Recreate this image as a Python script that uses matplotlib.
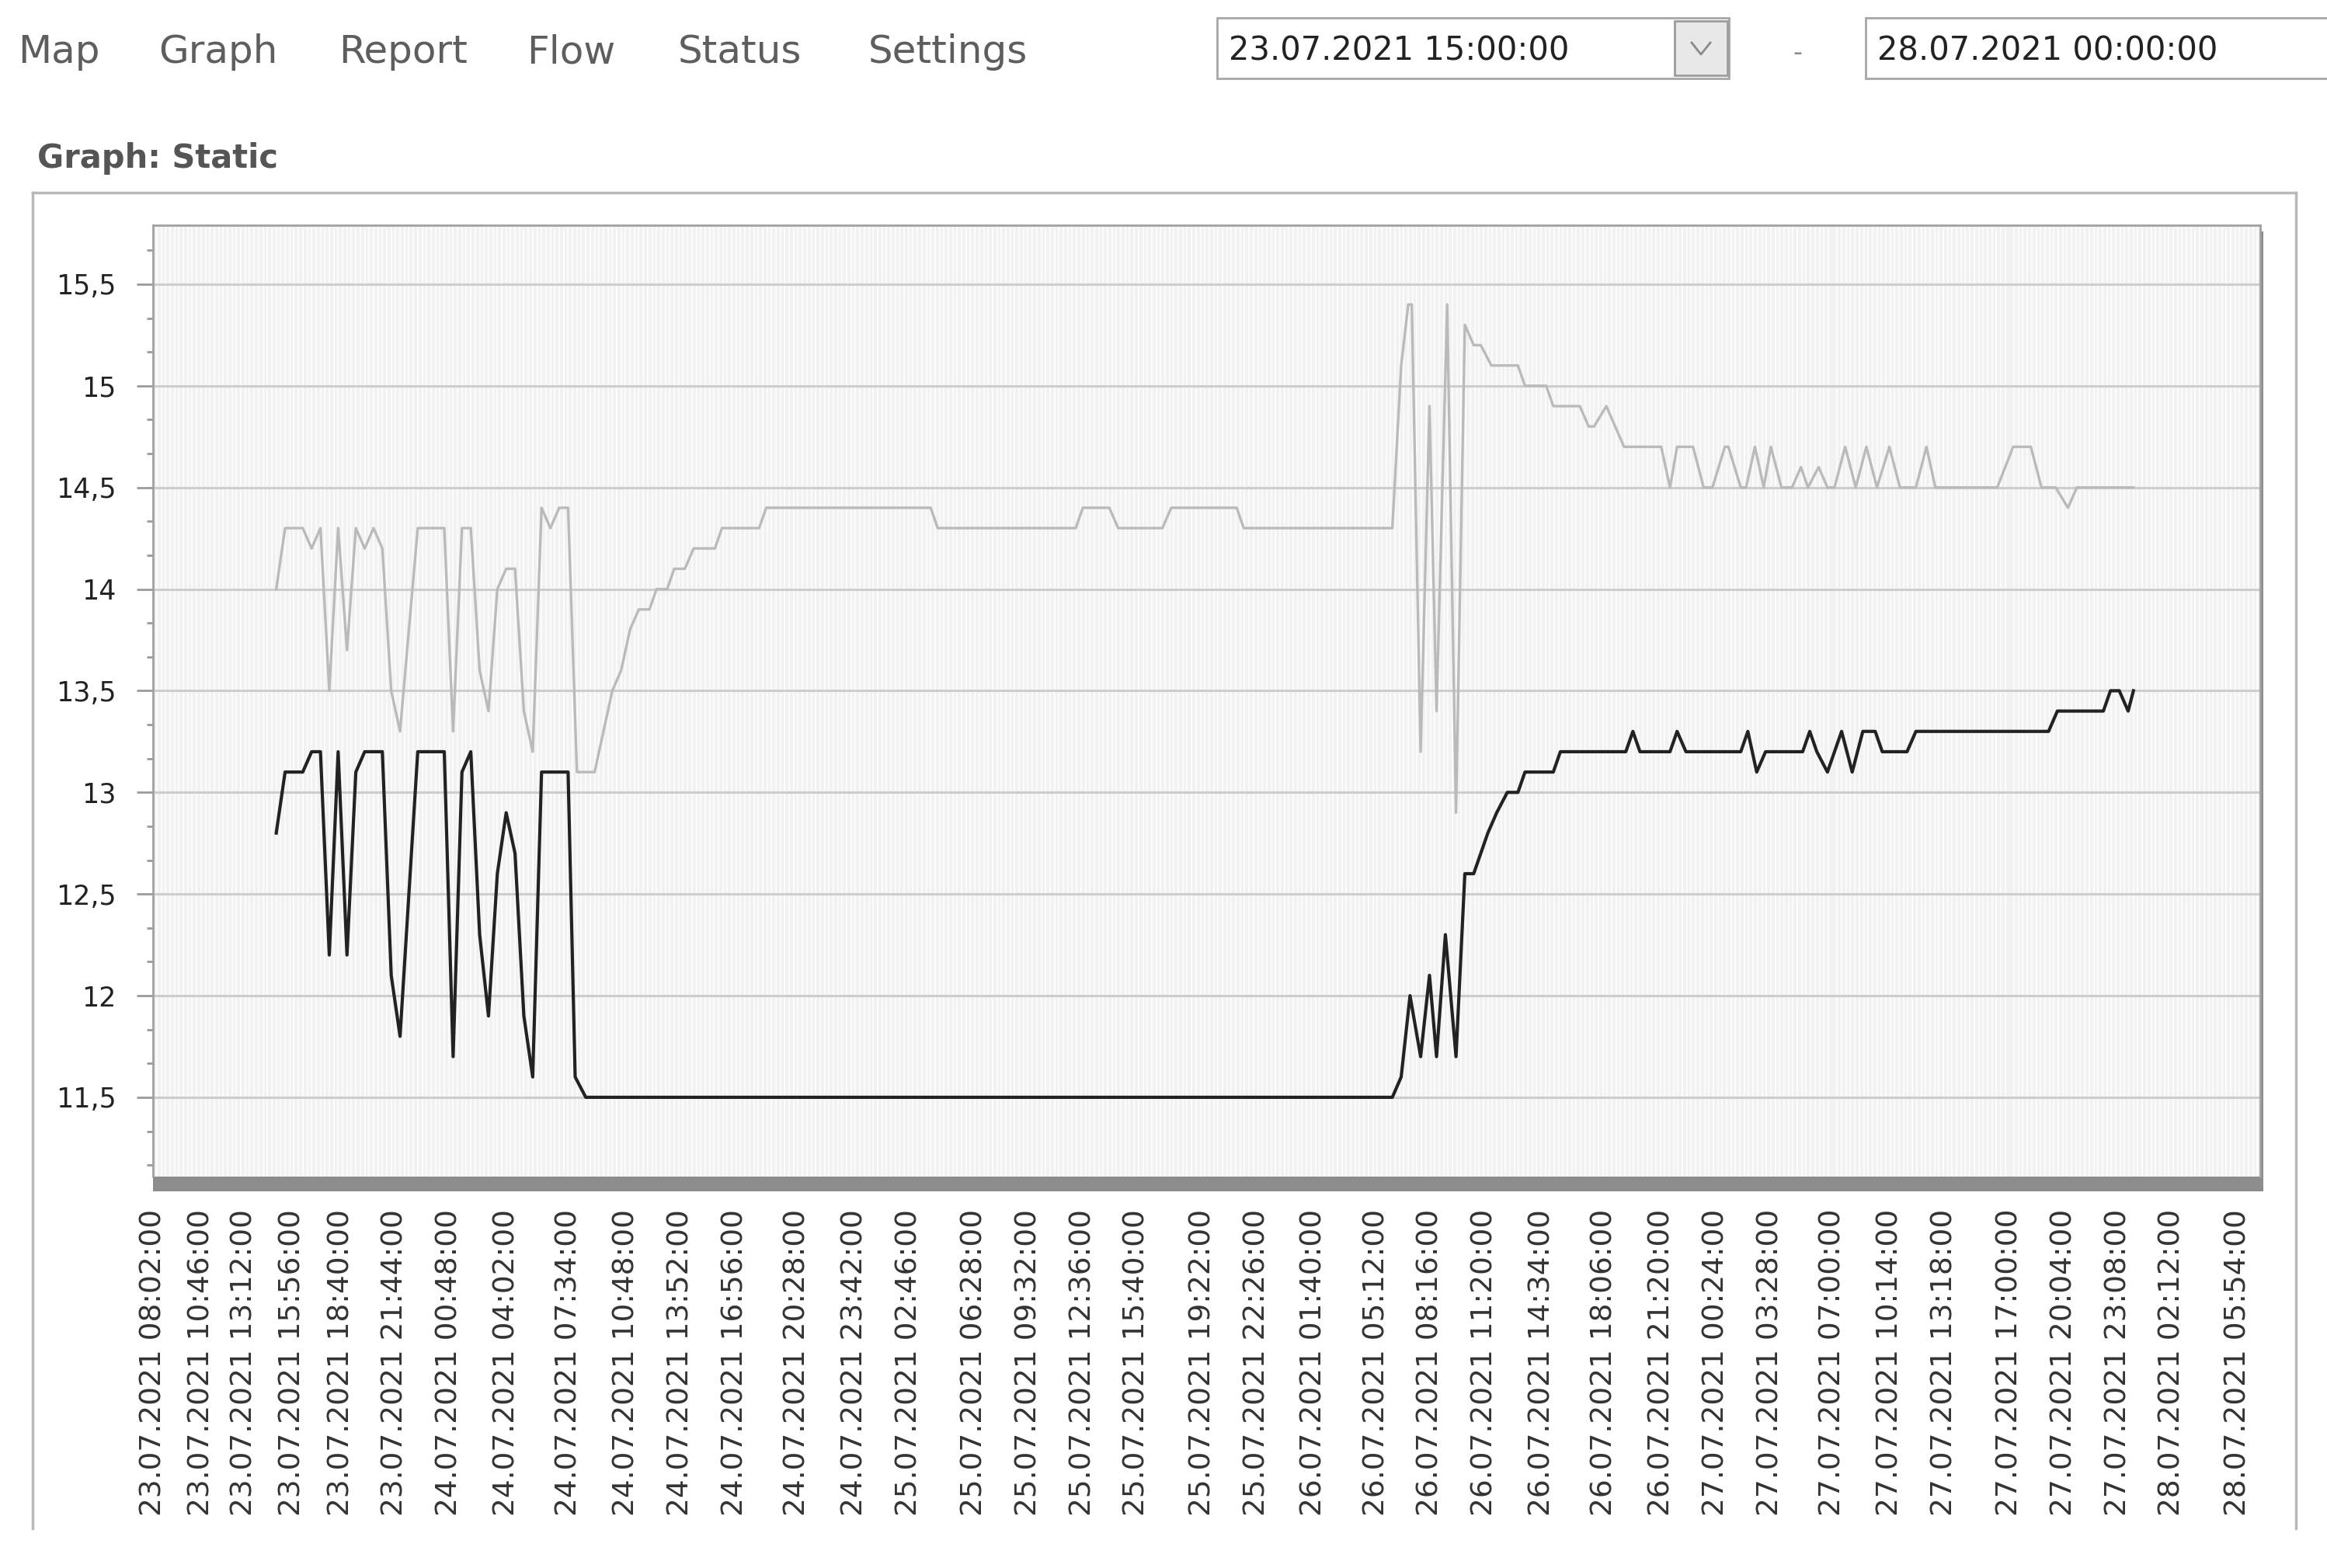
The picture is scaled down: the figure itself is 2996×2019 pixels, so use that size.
import matplotlib
matplotlib.use("Agg")
import matplotlib.pyplot as plt
from matplotlib.patches import Rectangle
from matplotlib.lines import Line2D
from matplotlib.ticker import MultipleLocator, FuncFormatter
import matplotlib.dates as mdates
from datetime import datetime, timedelta

# --- data ---
menu_items = ["Map", "Graph", "Report", "Flow", "Status", "Settings"]
date_from = "23.07.2021 15:00:00"
date_to = "28.07.2021 00:00:00"
panel_title = "Graph: Static"

x_tick_labels = [
    "23.07.2021 08:02:00", "23.07.2021 10:46:00", "23.07.2021 13:12:00", "23.07.2021 15:56:00",
    "23.07.2021 18:40:00", "23.07.2021 21:44:00", "24.07.2021 00:48:00", "24.07.2021 04:02:00",
    "24.07.2021 07:34:00", "24.07.2021 10:48:00", "24.07.2021 13:52:00", "24.07.2021 16:56:00",
    "24.07.2021 20:28:00", "24.07.2021 23:42:00", "25.07.2021 02:46:00", "25.07.2021 06:28:00",
    "25.07.2021 09:32:00", "25.07.2021 12:36:00", "25.07.2021 15:40:00", "25.07.2021 19:22:00",
    "25.07.2021 22:26:00", "26.07.2021 01:40:00", "26.07.2021 05:12:00", "26.07.2021 08:16:00",
    "26.07.2021 11:20:00", "26.07.2021 14:34:00", "26.07.2021 18:06:00", "26.07.2021 21:20:00",
    "27.07.2021 00:24:00", "27.07.2021 03:28:00", "27.07.2021 07:00:00", "27.07.2021 10:14:00",
    "27.07.2021 13:18:00", "27.07.2021 17:00:00", "27.07.2021 20:04:00", "27.07.2021 23:08:00",
    "28.07.2021 02:12:00", "28.07.2021 05:54:00",
]

# hours after the "from" date, and readings
gray_hours = [
    0.0, 0.5, 1.5, 2.0, 2.5, 3.0, 3.5, 4.0, 4.5, 5.0, 5.5, 6.0, 6.5, 7.0, 8.0, 9.5,
    10.0, 10.5, 11.0, 11.5, 12.0, 12.5, 13.0, 13.5, 14.0, 14.5, 15.0, 15.5, 16.0, 16.5,
    17.0, 18.0, 19.0, 19.5, 20.0, 20.5, 21.1, 21.5, 22.1, 22.5, 23.1, 23.6, 24.8, 25.2,
    27.3, 27.7, 37.0, 37.4, 45.2, 45.6, 47.1, 47.6, 50.1, 50.6, 54.3, 54.7, 63.1, 63.6,
    64.0, 64.2, 64.7, 65.2, 65.6, 66.2, 66.7, 67.2, 67.7, 68.1, 68.7, 70.2, 70.6, 71.8,
    72.2, 73.7, 74.2, 74.5, 75.2, 76.2, 78.3, 78.8, 79.2, 80.1, 80.7, 81.2, 81.9, 82.1,
    82.8, 83.1, 83.6, 84.1, 84.5, 85.1, 85.7, 86.2, 86.6, 87.2, 87.7, 88.1, 88.7, 89.3,
    89.9, 90.5, 91.2, 91.8, 92.7, 93.3, 93.8, 97.3, 98.2, 99.2, 99.8, 100.6, 101.3,
    101.8, 105.0,
]
gray_values = [
    14.0, 14.3, 14.3, 14.2, 14.3, 13.5, 14.3, 13.7, 14.3, 14.2, 14.3, 14.2, 13.5, 13.3, 14.3, 14.3,
    13.3, 14.3, 14.3, 13.6, 13.4, 14.0, 14.1, 14.1, 13.4, 13.2, 14.4, 14.3, 14.4, 14.4,
    13.1, 13.1, 13.5, 13.6, 13.8, 13.9, 13.9, 14.0, 14.0, 14.1, 14.1, 14.2, 14.2, 14.3,
    14.3, 14.4, 14.4, 14.3, 14.3, 14.4, 14.4, 14.3, 14.3, 14.4, 14.4, 14.3, 14.3, 15.1,
    15.4, 15.4, 13.2, 14.9, 13.4, 15.4, 12.9, 15.3, 15.2, 15.2, 15.1, 15.1, 15.0, 15.0,
    14.9, 14.9, 14.8, 14.8, 14.9, 14.7, 14.7, 14.5, 14.7, 14.7, 14.5, 14.5, 14.7, 14.7,
    14.5, 14.5, 14.7, 14.5, 14.7, 14.5, 14.5, 14.6, 14.5, 14.6, 14.5, 14.5, 14.7, 14.5,
    14.7, 14.5, 14.7, 14.5, 14.5, 14.7, 14.5, 14.5, 14.7, 14.7, 14.5, 14.5, 14.4,
    14.5, 14.5,
]

black_hours = [
    0.0, 0.5, 1.5, 2.0, 2.5, 3.0, 3.5, 4.0, 4.5, 5.0, 6.0, 6.5, 7.0, 8.0, 9.5, 10.0,
    10.5, 11.0, 11.5, 12.0, 12.5, 13.0, 13.5, 14.0, 14.5, 15.0, 16.5, 16.9, 17.5, 63.1,
    63.6, 64.1, 64.7, 65.2, 65.6, 66.1, 66.7, 67.2, 67.7, 68.5, 69.0, 69.6, 70.2, 70.6,
    72.2, 72.6, 76.3, 76.7, 77.1, 78.8, 79.2, 79.7, 82.8, 83.2, 83.7, 84.2, 86.3, 86.7,
    87.1, 87.7, 88.5, 89.1, 89.7, 90.4, 90.8, 92.2, 92.7, 100.2, 100.7, 103.3, 103.7,
    104.2, 104.7, 105.0,
]
black_values = [
    12.8, 13.1, 13.1, 13.2, 13.2, 12.2, 13.2, 12.2, 13.1, 13.2, 13.2, 12.1, 11.8, 13.2, 13.2, 11.7,
    13.1, 13.2, 12.3, 11.9, 12.6, 12.9, 12.7, 11.9, 11.6, 13.1, 13.1, 11.6, 11.5, 11.5,
    11.6, 12.0, 11.7, 12.1, 11.7, 12.3, 11.7, 12.6, 12.6, 12.8, 12.9, 13.0, 13.0, 13.1,
    13.1, 13.2, 13.2, 13.3, 13.2, 13.2, 13.3, 13.2, 13.2, 13.3, 13.1, 13.2, 13.2, 13.3,
    13.2, 13.1, 13.3, 13.1, 13.3, 13.3, 13.2, 13.2, 13.3, 13.3, 13.4, 13.4, 13.5,
    13.5, 13.4, 13.5,
]

# --- figure in pixel units ---
W, H = 2996, 2019
fmt = "%d.%m.%Y %H:%M:%S"


def fx(x):
    return x / W


def fy(y):
    return 1 - y / H


fig = plt.figure(figsize=(W / 100, H / 100), dpi=100)
fig.patch.set_facecolor("white")

# top menu
menu_x = [23, 204, 436, 678, 873, 1118]
for name, x in zip(menu_items, menu_x):
    fig.text(fx(x), fy(67), name, fontsize=36, color="#5e5e5e", ha="left", va="center")

# date range boxes
fig.add_artist(Rectangle((fx(1567), fy(101)), (2226 - 1567) / W, 78 / H, transform=fig.transFigure,
                         fc="white", ec="#a6a6a6", lw=2))
fig.add_artist(Rectangle((fx(2156), fy(97)), 68 / W, 70 / H, transform=fig.transFigure,
                         fc="#e8e8e8", ec="#9c9c9c", lw=2))
fig.add_artist(Line2D([fx(2178), fx(2190), fx(2202)], [fy(55), fy(70), fy(55)],
                      transform=fig.transFigure, color="#8a8a8a", lw=2))
fig.text(fx(1582), fy(66), date_from, fontsize=30, color="#222222", ha="left", va="center")
fig.text(fx(2314), fy(68), "-", fontsize=24, color="#8a8a8a", ha="center", va="center")
fig.add_artist(Rectangle((fx(2402), fy(101)), 700 / W, 78 / H, transform=fig.transFigure,
                         fc="white", ec="#a6a6a6", lw=2))
fig.text(fx(2417), fy(66), date_to, fontsize=30, color="#222222", ha="left", va="center")

# panel
fig.text(fx(48), fy(204), panel_title, fontsize=30, fontweight="bold", color="#555555",
         ha="left", va="center")
for xs, ys in [([42, 2956], [248, 248]), ([42, 42], [248, 1968]), ([2956, 2956], [248, 1968])]:
    fig.add_artist(Line2D([fx(v) for v in xs], [fy(v) for v in ys], transform=fig.transFigure,
                          color="#b8b8b8", lw=2.5))

# chart
ax = fig.add_axes([fx(197), fy(1515), (2910 - 197) / W, (1515 - 290) / H])
ax.set_facecolor("#f1f1f1")

start = datetime.strptime(date_from, fmt)
gray_t = [start + timedelta(hours=h) for h in gray_hours]
black_t = [start + timedelta(hours=h) for h in black_hours]
tick_t = [datetime.strptime(s, fmt) for s in x_tick_labels]

ax.plot(gray_t, gray_values, color="#bababa", lw=2.4, zorder=3)
ax.plot(black_t, black_values, color="#222222", lw=3.0, zorder=4)

ax.set_xlim(tick_t[0], tick_t[-1] + timedelta(minutes=76))
ax.set_ylim(11.11, 15.79)

ax.set_xticks(tick_t)
ax.set_xticklabels(x_tick_labels, rotation=90, fontsize=27, color="#333333")
ax.xaxis.set_minor_locator(mdates.MinuteLocator(byminute=[0, 15, 30, 45]))
ax.tick_params(axis="x", which="both", length=0, pad=30)

ax.yaxis.set_major_locator(MultipleLocator(0.5))
ax.yaxis.set_minor_locator(MultipleLocator(1 / 6))
ax.yaxis.set_major_formatter(FuncFormatter(lambda v, p: f"{v:g}".replace(".", ",")))
ax.tick_params(axis="y", which="major", length=15, width=2, color="#9a9a9a", pad=19,
               labelsize=25, labelcolor="#222222")
ax.tick_params(axis="y", which="minor", length=6, width=2, color="#9a9a9a")

ax.grid(True, which="minor", axis="x", color="#fbfbfb", lw=1.6, zorder=0)
ax.grid(True, which="major", axis="y", color="#cdcdcd", lw=2.2, zorder=1)
ax.set_axisbelow(True)

for side in ["left", "top", "right"]:
    ax.spines[side].set_color("#a0a0a0")
    ax.spines[side].set_linewidth(2)
ax.spines["bottom"].set_visible(False)

# 3d-ish frame: dark bar under the plot and a shadow on the right
ax.add_patch(Rectangle((0, -19 / 1225), 1 + 4 / 2713, 19 / 1225, transform=ax.transAxes,
                       clip_on=False, fc="#8c8c8c", ec="none"))
ax.add_patch(Rectangle((1, -19 / 1225), 4 / 2713, 1 + 19 / 1225 - 8 / 1225, transform=ax.transAxes,
                       clip_on=False, fc="#8c8c8c", ec="none"))

fig.savefig("out.png", dpi=100)
